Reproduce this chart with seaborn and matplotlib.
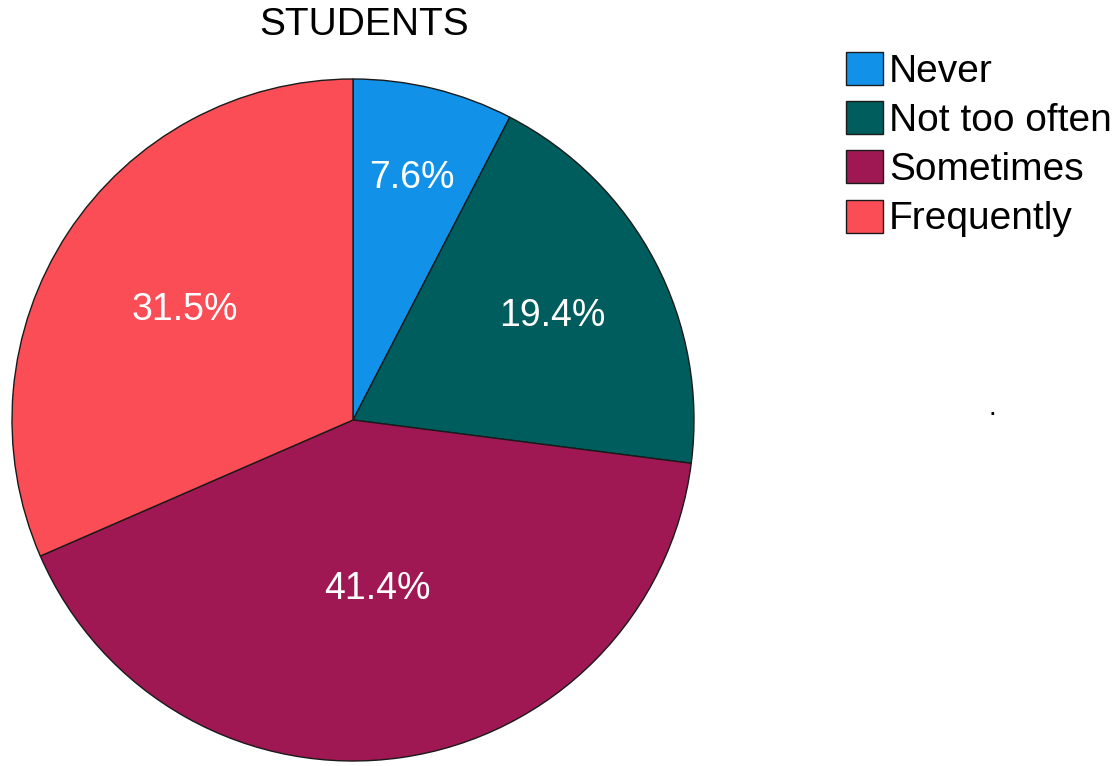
import matplotlib
matplotlib.use("Agg")
import matplotlib.pyplot as plt
import numpy as np
import seaborn as sns

categories = ["Never", "Not too often", "Sometimes", "Frequently"]
percentages = [7.6, 19.4, 41.4, 31.5]
colors = ["#1192E8", "#005D5D", "#9F1853", "#FA4D56"]
title = "STUDENTS"

sns.set_theme(style="white")
plt.rcParams["font.family"] = ["Liberation Sans", "DejaVu Sans"]
plt.rcParams["text.color"] = "black"
palette = sns.color_palette(colors)

W, H = 1113, 766
fig = plt.figure(figsize=(W / 100, H / 100), dpi=100)
fig.patch.set_facecolor("white")

cx, cy, R = 353, 420, 341
ax = fig.add_axes([(cx - R) / W, (H - cy - R) / H, 2 * R / W, 2 * R / H])

wedges, _ = ax.pie(
    percentages,
    colors=palette,
    startangle=90,
    counterclock=False,
    radius=1.0,
    wedgeprops=dict(edgecolor="#1a1a1a", linewidth=1.0),
)
ax.set_xlim(-1, 1)
ax.set_ylim(-1, 1)
ax.set_aspect("equal")
ax.axis("off")

# percentage labels placed along each wedge's bisector
label_radius = [0.73, 0.66, 0.50, 0.59]
for w, pct, r in zip(wedges, percentages, label_radius):
    ang = np.deg2rad((w.theta1 + w.theta2) / 2)
    ax.text(r * np.cos(ang), r * np.sin(ang), f"{pct:.1f}%",
            ha="center", va="center", color="white", fontsize=27)

fig.text(364 / W, 1 - 25 / H, title, ha="center", va="center",
         fontsize=28, color="black")

leg = fig.legend(
    wedges, categories,
    loc="upper left",
    bbox_to_anchor=(846 / W, 1 - 52 / H),
    frameon=False,
    fontsize=28,
    handlelength=0.95,
    handleheight=0.93,
    handletextpad=0.15,
    labelspacing=0.29,
    borderaxespad=0,
    borderpad=0,
)
for t in leg.get_texts():
    t.set_color("black")

fig.text(992 / W, 1 - 408 / H, ".", ha="center", va="center", fontsize=20)

fig.savefig("out.png", dpi=100, facecolor="white")
